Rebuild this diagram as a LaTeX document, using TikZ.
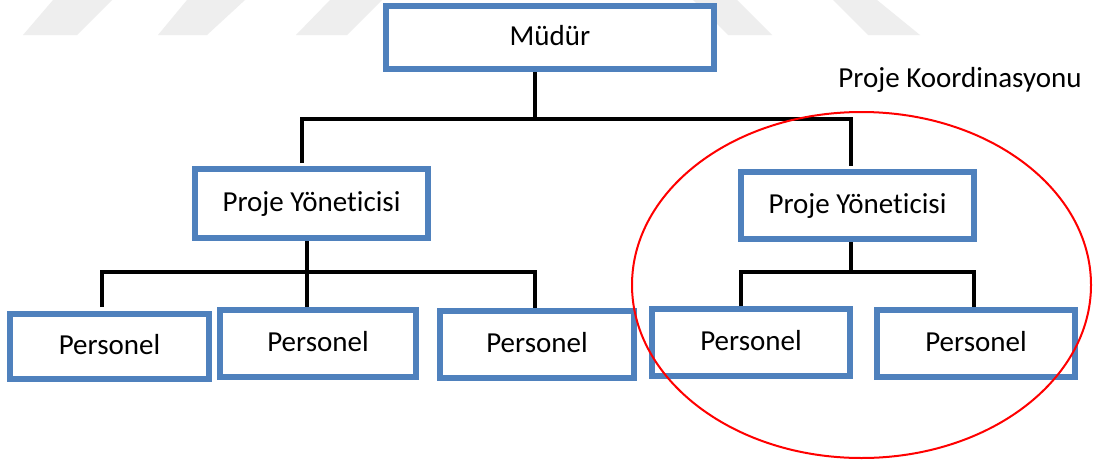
\documentclass[tikz,border=0pt]{standalone}
\usepackage{fontspec}
\setmainfont{Carlito}[Ligatures={NoCommon,NoDiscretionary}]
\usetikzlibrary{shapes.geometric}
\definecolor{boxblue}{HTML}{4F81BD}
\definecolor{markgray}{HTML}{EEEEEE}
\begin{document}
\begin{tikzpicture}[x=1pt,y=-1pt,
  orgbox/.style={draw=boxblue, line width=6pt, fill=white, inner sep=0pt,
    text height=21pt, text depth=5pt, font=\fontsize{29}{34}\selectfont},
  link/.style={draw=black, line width=3.5pt, line join=miter},
  stripe/.style={fill=markgray},
  ring/.style={draw=red, line width=2pt, ellipse, inner sep=0pt}]
\useasboundingbox[fill=white] (0,0) rectangle (1102,461);

% faint slanted stripes along the top edge
\fill[stripe] (23,35) -- (77,35) -- (112,0) -- (53,0) -- cycle;
\fill[stripe] (158,35) -- (207,35) -- (245,0) -- (187,0) -- cycle;
\fill[stripe] (296,35) -- (347,35) -- (382,0) -- (330,0) -- cycle;
\fill[stripe] (728,35) -- (772,35) -- (737,0) -- (693,0) -- cycle;
\fill[stripe] (868,35) -- (920,35) -- (877,0) -- (833,0) -- cycle;

% boxes
\node[orgbox, minimum width=328pt, minimum height=63pt] (mudur) at (550,37.5) {Müdür};
\node[orgbox, minimum width=233pt, minimum height=69pt] (pyl) at (311.5,203.5) {Proje Yöneticisi};
\node[orgbox, minimum width=233pt, minimum height=67pt] (pyr) at (857.5,205.5) {Proje Yöneticisi};
\node[orgbox, minimum width=199pt, minimum height=65pt] (p1) at (109.5,346.5) {Personel};
\node[orgbox, minimum width=196pt, minimum height=67pt] (p2) at (318,343.5) {Personel};
\node[orgbox, minimum width=194pt, minimum height=67pt] (p3) at (537,344.5) {Personel};
\node[orgbox, minimum width=198pt, minimum height=67pt] (p4) at (751,342.5) {Personel};
\node[orgbox, minimum width=198pt, minimum height=67pt] (p5) at (976,343.5) {Personel};

\node[anchor=base, inner sep=0pt, font=\fontsize{29}{34}\selectfont] (koord) at (960,87) {Proje Koordinasyonu};

% bus junctions
\coordinate (busA) at (535,119);
\coordinate (busAl) at (302,119);
\coordinate (busAr) at (851,119);
\coordinate (busB) at (307,272);
\coordinate (busBl) at (102,272);
\coordinate (busBr) at (535,272);
\coordinate (busC) at (851,272);
\coordinate (busCl) at (741,272);
\coordinate (busCr) at (974,272);

% connectors
\draw[link] (busA |- mudur.south) -- (busA);
\draw[link, shorten <=3pt, shorten >=3pt] (busAl |- pyl.north) -- (busAl) -- (busAr) -- (busAr |- pyr.north);
\draw[link] (busB |- pyl.south) -- (busB |- p2.north);
\draw[link, shorten <=4pt] (busBl |- p1.north) -- (busBl) -- (busBr) -- (busBr |- p3.north);
\draw[link] (busC |- pyr.south) -- (busC);
\draw[link] (busCl |- p4.north) -- (busCl) -- (busCr) -- (busCr |- p5.north);

% coordination ring
\node[ring, minimum width=459pt, minimum height=346pt] (coord) at (861.5,285) {};
\end{tikzpicture}
\end{document}
